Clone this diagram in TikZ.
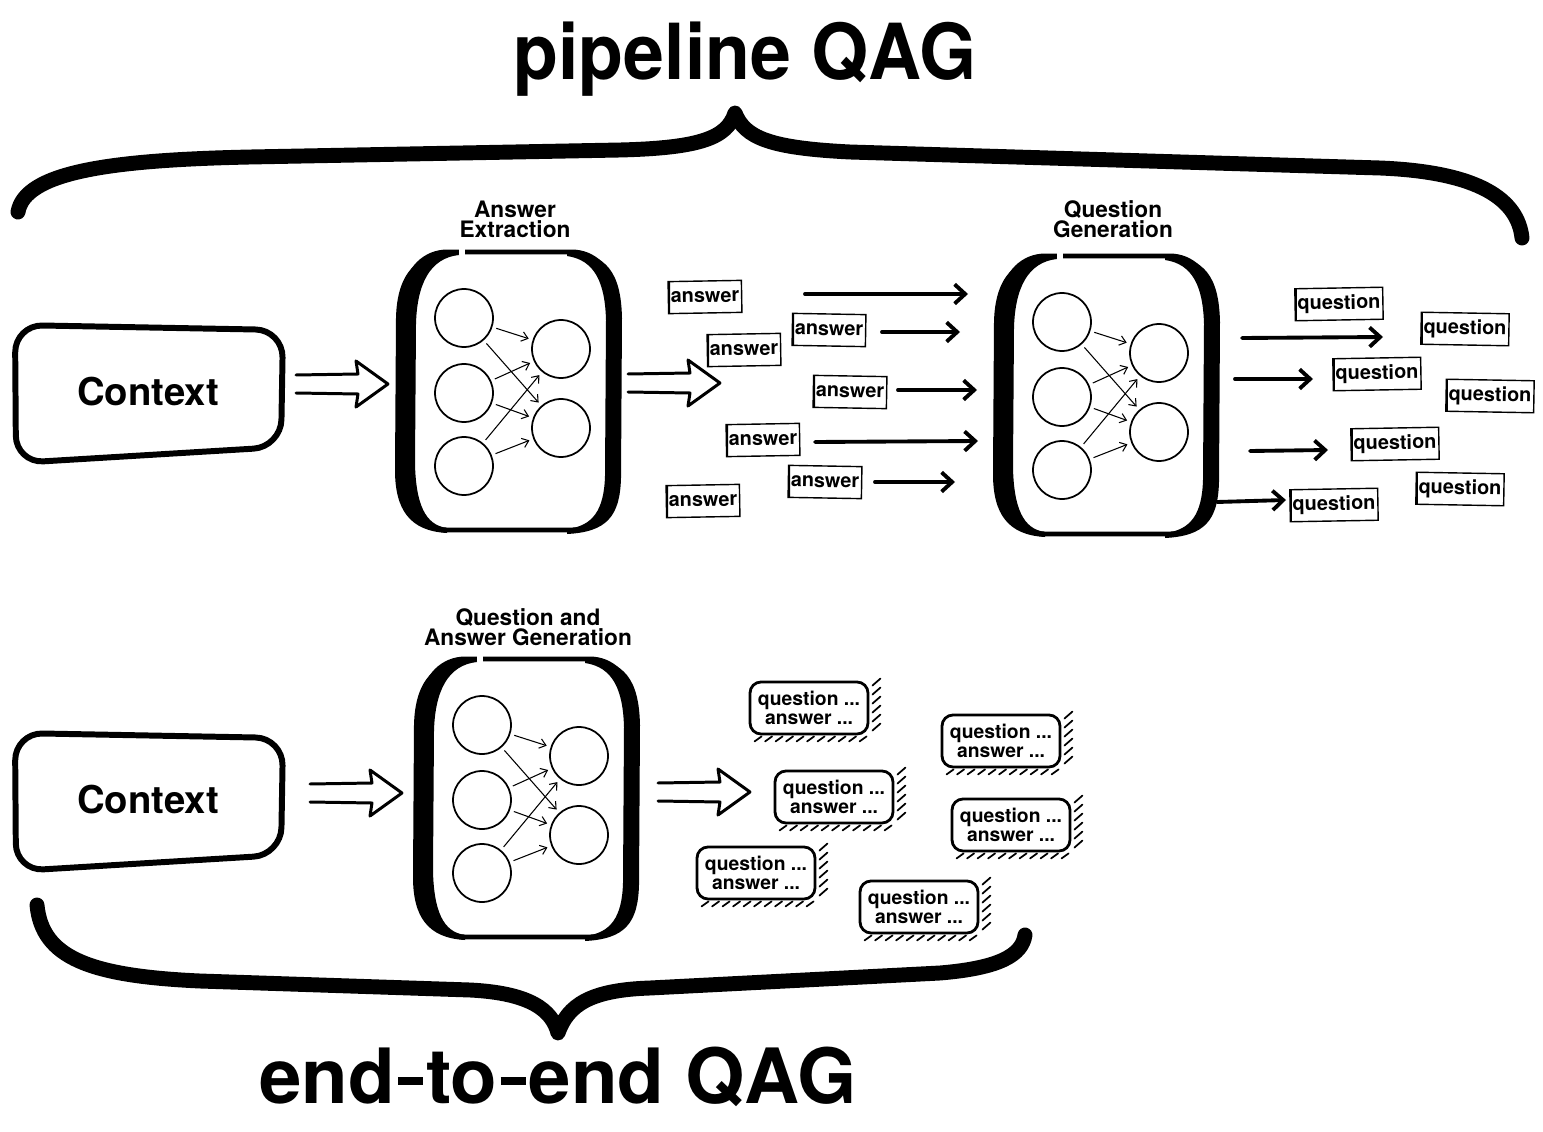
\documentclass[tikz,border=0pt]{standalone}
\usepackage{graphicx}
\usepackage{fontspec}
\setmainfont{TeX Gyre Heros}
\usetikzlibrary{arrows.meta,calc}
\tikzset{
  bigbrace/.style={line width=8.5pt, line cap=round, line join=round},
  ctxframe/.style={line width=3.4pt, rounded corners=0.55cm, line join=round},
  ctxtext/.style={font=\fontsize{21.8}{26}\selectfont\bfseries},
  hollow/.style={line width=1.7pt, line join=round, line cap=round},
  neuron/.style={circle, draw, line width=1pt, minimum size=1.16cm, inner sep=0pt},
  syn/.style={line width=0.6pt, -{Straight Barb[length=3.5pt,width=5.5pt]}, shorten <=0.08cm, shorten >=0.08cm},
  fat/.style={line width=2.2pt, line cap=round, -{Straight Barb[length=6pt,width=11pt]}},
  tag/.style={draw, line width=0.8pt, inner xsep=0.05cm, inner ysep=0pt, minimum height=0.64cm,
    font=\fontsize{11.3}{13}\selectfont\bfseries,
    path picture={\draw[line width=2.2pt] (path picture bounding box.north west) -- (path picture bounding box.south west);}},
  qa/.style={draw, line width=1.6pt, rounded corners=0.22cm, minimum width=2.36cm, minimum height=1.04cm,
    align=center, inner sep=0pt, font=\fontsize{11}{10.8}\selectfont\bfseries},
  hatchline/.style={line width=1pt, line cap=round},
  mlabel/.style={align=center, font=\fontsize{12.9}{11.5}\selectfont\bfseries},
  toptitle/.style={font=\fontsize{44}{48}\selectfont\bfseries, anchor=base, inner sep=0pt},
  bottitle/.style={font=\fontsize{43.4}{48}\selectfont\bfseries, anchor=base, inner sep=0pt},
}
\newcommand\modelbox[3]{%
\begin{scope}[shift={(#2,#3)}]
 \draw[line width=2.8pt, rounded corners=0.8cm] (12,4) rectangle (217,282);
 \draw[white, line width=3pt] (67,-4) -- (67,12);
 \fill (62,2) .. controls (22,4) and (2,25) .. (1,70) -- (0,222) .. controls (0,262) and (15,283) .. (52,285) -- (52,280) .. controls (30,277) and (21,256) .. (20,216) -- (21,76) .. controls (22,36) and (35,10) .. (64,7) -- cycle;
 \fill (172,3) .. controls (212,5) and (226,25) .. (227,70) -- (226,230) .. controls (225,268) and (212,284) .. (172,286) -- (172,281) .. controls (198,278) and (209,262) .. (210,228) -- (211,72) .. controls (210,35) and (200,12) .. (172,8) -- cycle;
 \node[neuron] (#1l1) at (69,70) {};
 \node[neuron] (#1l2) at (69,145) {};
 \node[neuron] (#1l3) at (69,218) {};
 \node[neuron] (#1r1) at (166,101) {};
 \node[neuron] (#1r2) at (166,180) {};
 \draw[syn] (#1l1) -- (#1r1);
 \draw[syn] (#1l1) -- (#1r2);
 \draw[syn] (#1l2) -- (#1r1);
 \draw[syn] (#1l2) -- (#1r2);
 \draw[syn] (#1l3) -- (#1r1);
 \draw[syn] (#1l3) -- (#1r2);
\end{scope}}
\newcommand\hollowarrow[1]{%
\begin{scope}[shift={(#1)}]
 \draw[hollow] (0,-9) -- (62,-10) -- (60,-23) -- (92,0) -- (60,23) -- (62,10) -- (0,9);
\end{scope}}
\newcommand\hatchbox[1]{%
 \foreach \k in {0,...,5} \draw[hatchline] ($(#1.north east)+(3,{5+9*\k})$) -- ++(8,-7);
 \foreach \k in {0,...,10} \draw[hatchline] ($(#1.south west)+({6+10.5*\k},6)$) -- ++(7,-5);}
\newcommand\hy{\kern0.04em\rule[0.235em]{0.33em}{0.105em}\kern0.04em}
\begin{document}
\begin{tikzpicture}[x=0.02cm, y=-0.02cm]
\fill[white] (0,0) rectangle (1543,1132);
\useasboundingbox (0,0) rectangle (1543,1132);

% titles and braces
\node[toptitle] (t1) at (745,80) {\scalebox{0.95}[1]{pipeline QAG}};
\node[bottitle] (t2) at (558,1103) {end\hy to\hy end QAG};
\draw[bigbrace] (18,212) .. controls (25,172) and (110,160) .. (250,157) -- (620,150) .. controls (700,148) and (727,138) .. (735,113) .. controls (745,138) and (770,148) .. (850,152) -- (1380,168) .. controls (1480,172) and (1518,200) .. (1522,238);
\draw[bigbrace] (37,905) .. controls (42,958) and (90,976) .. (200,981) -- (470,990) .. controls (530,993) and (552,1010) .. (558,1033) .. controls (568,1005) and (590,990) .. (650,988) -- (940,973) .. controls (1000,968) and (1022,955) .. (1025,935);

% context boxes
\node[ctxtext] (ctx1) at (148,392) {Context};
\draw[ctxframe] (15,325) -- (283,330) -- (281,447) -- (16,463) -- cycle;
\node[ctxtext] (ctx2) at (148,800) {Context};
\draw[ctxframe] (15,733) -- (283,738) -- (281,855) -- (16,871) -- cycle;

% hollow arrows
\coordinate (da1) at (296,384);
\coordinate (da2) at (628,383);
\coordinate (da3) at (310,793);
\coordinate (da4) at (658,792);
\hollowarrow{da1}
\hollowarrow{da2}
\hollowarrow{da3}
\hollowarrow{da4}

% model boxes
\modelbox{ae}{395}{248}
\modelbox{qg}{993}{252}
\modelbox{qag}{413}{655}
\node[mlabel] (lab1) at (515,219) {Answer\\Extraction};
\node[mlabel] (lab2) at (1113,219) {Question\\Generation};
\node[mlabel] (lab3) at (528,627) {Question and\\Answer Generation};

% answers
\node[tag, rotate=1] (a1) at (705,297) {answer};
\node[tag, rotate=-1] (a2) at (829,330) {answer};
\node[tag, rotate=1] (a3) at (744,350) {answer};
\node[tag, rotate=-1] (a4) at (850,392) {answer};
\node[tag, rotate=1] (a5) at (763,440) {answer};
\node[tag, rotate=-1] (a6) at (825,482) {answer};
\node[tag, rotate=1] (a7) at (703,501) {answer};

\coordinate (s1) at (805,294); \coordinate (e1) at (968,294);
\coordinate (s2) at (882,332); \coordinate (e2) at (960,332);
\coordinate (s3) at (898,390); \coordinate (e3) at (977,390);
\coordinate (s4) at (815,442); \coordinate (e4) at (978,441);
\coordinate (s5) at (875,482); \coordinate (e5) at (955,482);
\draw[fat] (s1) -- (e1);
\draw[fat] (s2) -- (e2);
\draw[fat] (s3) -- (e3);
\draw[fat] (s4) -- (e4);
\draw[fat] (s5) -- (e5);

% questions
\node[tag, rotate=1] (q1) at (1339,304) {question};
\node[tag, rotate=-1] (q2) at (1465,329) {question};
\node[tag, rotate=1] (q3) at (1377,374) {question};
\node[tag, rotate=-1] (q4) at (1490,396) {question};
\node[tag, rotate=1] (q5) at (1395,444) {question};
\node[tag, rotate=-1] (q6) at (1460,489) {question};
\node[tag, rotate=1] (q7) at (1334,505) {question};

\coordinate (s6) at (1242,338); \coordinate (e6) at (1383,337);
\coordinate (s7) at (1235,379); \coordinate (e7) at (1313,379);
\coordinate (s8) at (1250,451); \coordinate (e8) at (1328,450);
\coordinate (s9) at (1217,502); \coordinate (e9) at (1286,500);
\draw[fat] (s6) -- (e6);
\draw[fat] (s7) -- (e7);
\draw[fat] (s8) -- (e8);
\draw[fat] (s9) -- (e9);

% question-answer pairs
\node[qa] (qa1) at (809,708) {question ...\\answer ...};
\node[qa] (qa2) at (1001,741) {question ...\\answer ...};
\node[qa] (qa3) at (834,797) {question ...\\answer ...};
\node[qa] (qa4) at (1011,825) {question ...\\answer ...};
\node[qa] (qa5) at (756,873) {question ...\\answer ...};
\node[qa] (qa6) at (919,907) {question ...\\answer ...};
\hatchbox{qa1}
\hatchbox{qa2}
\hatchbox{qa3}
\hatchbox{qa4}
\hatchbox{qa5}
\hatchbox{qa6}
\end{tikzpicture}
\end{document}
